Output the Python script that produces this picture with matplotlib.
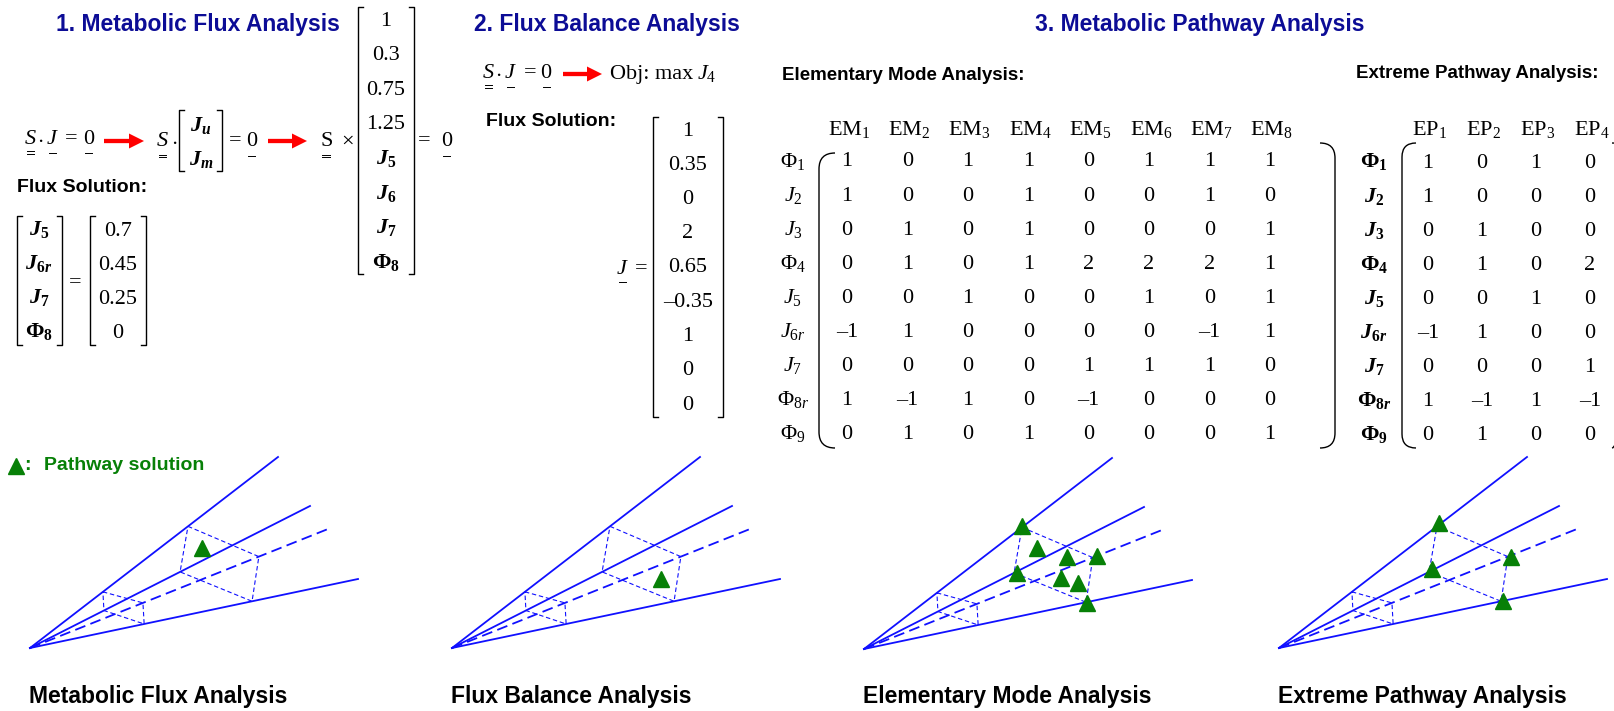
import numpy as np
import matplotlib
matplotlib.use('Agg')
import matplotlib.pyplot as plt
from matplotlib.path import Path
from matplotlib.patches import PathPatch, FancyArrow

plt.rcParams['font.family'] = 'Liberation Sans'
plt.rcParams['mathtext.fontset'] = 'custom'
plt.rcParams['mathtext.rm'] = 'Liberation Serif'
plt.rcParams['mathtext.it'] = 'Liberation Serif:italic'
plt.rcParams['mathtext.bf'] = 'Liberation Serif:bold'
plt.rcParams['mathtext.bfit'] = 'Liberation Serif:italic:bold'

# --- values -------------------------------------------------------------
MFA_KNOWN = [1, 0.3, 0.75, 1.25]
MFA_UNKNOWN = [('J', '5'), ('J', '6'), ('J', '7'), ('Phi', '8')]
MFA_SOLVED = [('J', '5'), ('J', '6r'), ('J', '7'), ('Phi', '8')]
MFA_SOLUTION = [0.7, 0.45, 0.25, 0]

FBA_FLUX = [1, 0.35, 0, 2, 0.65, -0.35, 1, 0, 0]

ROW_LABELS = [('Phi', '1'), ('J', '2'), ('J', '3'), ('Phi', '4'), ('J', '5'),
              ('J', '6r'), ('J', '7'), ('Phi', '8r'), ('Phi', '9')]
EM_COLS = ['1', '2', '3', '4', '5', '6', '7', '8']
EM = np.array([
    [1, 0, 1, 1, 0, 1, 1, 1],
    [1, 0, 0, 1, 0, 0, 1, 0],
    [0, 1, 0, 1, 0, 0, 0, 1],
    [0, 1, 0, 1, 2, 2, 2, 1],
    [0, 0, 1, 0, 0, 1, 0, 1],
    [-1, 1, 0, 0, 0, 0, -1, 1],
    [0, 0, 0, 0, 1, 1, 1, 0],
    [1, -1, 1, 0, -1, 0, 0, 0],
    [0, 1, 0, 1, 0, 0, 0, 1],
])
EP_COLS = ['1', '2', '3', '4']
EP = np.array([
    [1, 0, 1, 0],
    [1, 0, 0, 0],
    [0, 1, 0, 0],
    [0, 1, 0, 2],
    [0, 0, 1, 0],
    [-1, 1, 0, 0],
    [0, 0, 0, 1],
    [1, -1, 1, -1],
    [0, 1, 0, 0],
])

# flux cone: ray ends relative to the apex (top, middle, dashed, bottom)
RAYS = np.array([[248, -191], [280, -142], [298, -119], [328, -69]])
NEAR_CUT = [0.294, 0.264, 0.379, 0.348]
FAR_CUT = [0.637, 0.536, 0.768, 0.677]

# pathway solutions inside each cone (relative to apex)
MFA_TRI = [(172, -100)]
FBA_TRI = [(209, -69)]
EMA_TRI = [(158, -123), (173, -101), (203, -92), (233, -93),
           (153, -76), (197, -71), (214, -66), (223, -46)]
EPA_TRI = [(160, -125), (153, -79), (232, -91), (224, -47)]

CAPTIONS = ['Metabolic Flux Analysis', 'Flux Balance Analysis',
            'Elementary Mode Analysis', 'Extreme Pathway Analysis']

NAVY = '#0c0c96'
GREEN = '#078007'
BLUE = '#1010ff'

fig = plt.figure(figsize=(16.14, 7.11), dpi=100)
ax = fig.add_axes([0, 0, 1, 1])
ax.set_xlim(0, 1614)
ax.set_ylim(711, 0)
ax.axis('off')


def sym(base, sub, bold=False):
    if bold:
        b = r'\mathbf{\Phi}' if base == 'Phi' else r'\mathbfit{J}'
        s = r'\mathbf{%s}' % sub.rstrip('r')
        if sub.endswith('r'):
            s += r'\mathbfit{r}'
    else:
        b = r'\Phi' if base == 'Phi' else 'J'
        s = sub
    return '$%s_{%s}$' % (b, s)


def num(v):
    return ('%g' % v).replace('-', '\u2013')


def serif(x, y, s, fs=16, ha='center', **kw):
    # y is the visual middle of a digit
    ax.text(x, y + 7.5, s, fontsize=fs, family='Liberation Serif', ha=ha,
            va='baseline', **kw)


def ul(x0, x1, y, n=1):
    for k in range(n):
        ax.plot([x0, x1], [y + 2.6 * k] * 2, color='k', lw=0.7)


def square(x, y0, y1, side):
    d = 5 if side == 'l' else -5
    ax.plot([x + d, x, x, x + d], [y0, y0, y1, y1], color='k', lw=1.0)


def paren(x, y0, y1, side, r=16):
    d = r if side == 'l' else -r
    verts = [(x + d, y0), (x, y0), (x, y0 + r), (x, y1 - r), (x, y1), (x + d, y1)]
    codes = [Path.MOVETO, Path.CURVE3, Path.CURVE3, Path.LINETO, Path.CURVE3, Path.CURVE3]
    ax.add_patch(PathPatch(Path(verts, codes), fc='none', ec='k', lw=1.0))


def arrow(x0, x1, y):
    ax.add_patch(FancyArrow(x0, y, x1 - x0, 0, width=4.3, head_width=15,
                            head_length=15, length_includes_head=True,
                            color='#ff0000', lw=0))


def sj_zero(xs, y):
    # S . J = 0 with the matrix / vector underlines
    serif(xs[0], y, '$S$')
    serif(xs[1], y, r'$\cdot$')
    serif(xs[2], y, '$J$')
    serif(xs[3], y, '=')
    serif(xs[4], y, '0')
    ul(xs[0] - 3, xs[0] + 4, y + 15, 2)
    ul(xs[2] - 3, xs[2] + 4, y + 17)
    ul(xs[4] - 3.5, xs[4] + 3.5, y + 17)


# --- 1. Metabolic Flux Analysis -----------------------------------------
ax.text(198, 25, '1. Metabolic Flux Analysis', fontsize=16.5, weight='bold',
        color=NAVY, ha='center', va='center')
sj_zero([30, 40, 52, 71, 88.5], 136)
arrow(104, 144, 141)

serif(162, 138, '$S$')
ul(159, 166, 154.5, 2)
serif(174, 138, r'$\cdot$')
square(179, 110, 171, 'l')
square(222, 110, 171, 'r')
serif(201, 123, r'$\mathbfit{J}_{\mathbfit{u}}$')
serif(201, 157, r'$\mathbfit{J}_{\mathbfit{m}}$')
serif(235, 138, '=')
serif(251.5, 138, '0')
ul(248, 255, 156)
arrow(268, 307, 141)

serif(326, 138, r'$\mathrm{S}$')
ul(322, 330, 154.5, 2)
serif(347, 138, r'$\times$')
square(358, 7, 274, 'l')
square(414, 7, 274, 'r')
col = [num(v) for v in MFA_KNOWN] + [sym(b, s, True) for b, s in MFA_UNKNOWN]
for i, s in enumerate(col):
    serif(386, 18 + 34.6 * i, s)
serif(424, 138, '=')
serif(446.5, 138, '0')
ul(443, 450, 156)

ax.text(17, 188, 'Flux Solution:', fontsize=14, weight='bold', ha='left', va='center')
square(17, 216, 345, 'l')
square(62, 216, 345, 'r')
square(90, 216, 345, 'l')
square(146, 216, 345, 'r')
for i, ((b, s), v) in enumerate(zip(MFA_SOLVED, MFA_SOLUTION)):
    serif(39, 228 + 34 * i, sym(b, s, True))
    serif(118, 228 + 34 * i, num(v))
serif(75, 280, '=')

# --- 2. Flux Balance Analysis -------------------------------------------
ax.text(607, 25, '2. Flux Balance Analysis', fontsize=16.5, weight='bold',
        color=NAVY, ha='center', va='center')
sj_zero([488, 498, 510, 530, 546], 70)
arrow(563, 602, 74)
serif(610, 71, 'Obj: max', ha='left')
serif(697, 71, '$J_4$', ha='left')
ax.text(486, 121, 'Flux Solution:', fontsize=14, weight='bold', ha='left', va='center')
square(653, 117, 417, 'l')
square(723, 117, 417, 'r')
for i, v in enumerate(FBA_FLUX):
    serif(688, 128 + 34.25 * i, num(v))
serif(622, 266, '$J$')
ul(619, 626, 282)
serif(641, 266, '=')

# --- 3. Metabolic Pathway Analysis --------------------------------------
ax.text(1200, 25, '3. Metabolic Pathway Analysis', fontsize=16.5, weight='bold',
        color=NAVY, ha='center', va='center')
ax.text(782, 75, 'Elementary Mode Analysis:', fontsize=13.5, weight='bold',
        ha='left', va='center')
ax.text(1356, 74, 'Extreme Pathway Analysis:', fontsize=13.5, weight='bold',
        ha='left', va='center')

for j, c in enumerate(EM_COLS):
    serif(849 + 60.4 * j, 127, r'$\mathrm{EM}_{%s}$' % c)
for i, (b, s) in enumerate(ROW_LABELS):
    y = 159 + 34.1 * i
    serif(793, y, sym(b, s))
    for j in range(EM.shape[1]):
        serif(847 + 60.4 * j, y, num(EM[i, j]))
paren(819, 153, 448, 'l')
paren(1335, 143, 448, 'r', r=15)

for j, c in enumerate(EP_COLS):
    serif(1430 + 54 * j, 127, r'$\mathrm{EP}_{%s}$' % c)
for i, (b, s) in enumerate(ROW_LABELS):
    y = 160 + 34.1 * i
    serif(1374, y, sym(b, s, True))
    for j in range(EP.shape[1]):
        serif(1428 + 54 * j, y, num(EP[i, j]))
paren(1402, 143, 448, 'l', r=14)
paren(1627, 143, 448, 'r', r=15)

# --- flux cones -----------------------------------------------------------
ax.plot(16, 466, '^', color=GREEN, ms=11, mec=GREEN)
ax.text(24, 466, ':', fontsize=14, weight='bold', color=GREEN, ha='left', va='center')
ax.text(44, 466, 'Pathway solution', fontsize=14, weight='bold', color=GREEN,
        ha='left', va='center')


def cone(apex, tris, caption):
    a = np.array(apex, dtype=float)
    for k, r in enumerate(RAYS):
        ls = (0, (6, 3)) if k == 2 else '-'
        ax.plot([a[0], a[0] + r[0]], [a[1], a[1] + r[1]], color=BLUE, lw=1.3, ls=ls)
    for cut in (NEAR_CUT, FAR_CUT):
        p = [a + f * r for f, r in zip(cut, RAYS)]
        ring = [p[0], p[2], p[3], p[1], p[0]]
        ax.plot([q[0] for q in ring], [q[1] for q in ring], color=BLUE, lw=0.8,
                ls=(0, (4, 2.5)))
    for tx, ty in tris:
        ax.plot(a[0] + tx, a[1] + ty, '^', color=GREEN, ms=11, mec=GREEN)
    ax.text(a[0] - 1, 697, caption, fontsize=16.5, weight='bold', ha='left', va='center')


cone((30, 648), MFA_TRI, CAPTIONS[0])
cone((452, 648), FBA_TRI, CAPTIONS[1])
cone((864, 649), EMA_TRI, CAPTIONS[2])
cone((1279, 648), EPA_TRI, CAPTIONS[3])

fig.savefig('out.png', dpi=100)
